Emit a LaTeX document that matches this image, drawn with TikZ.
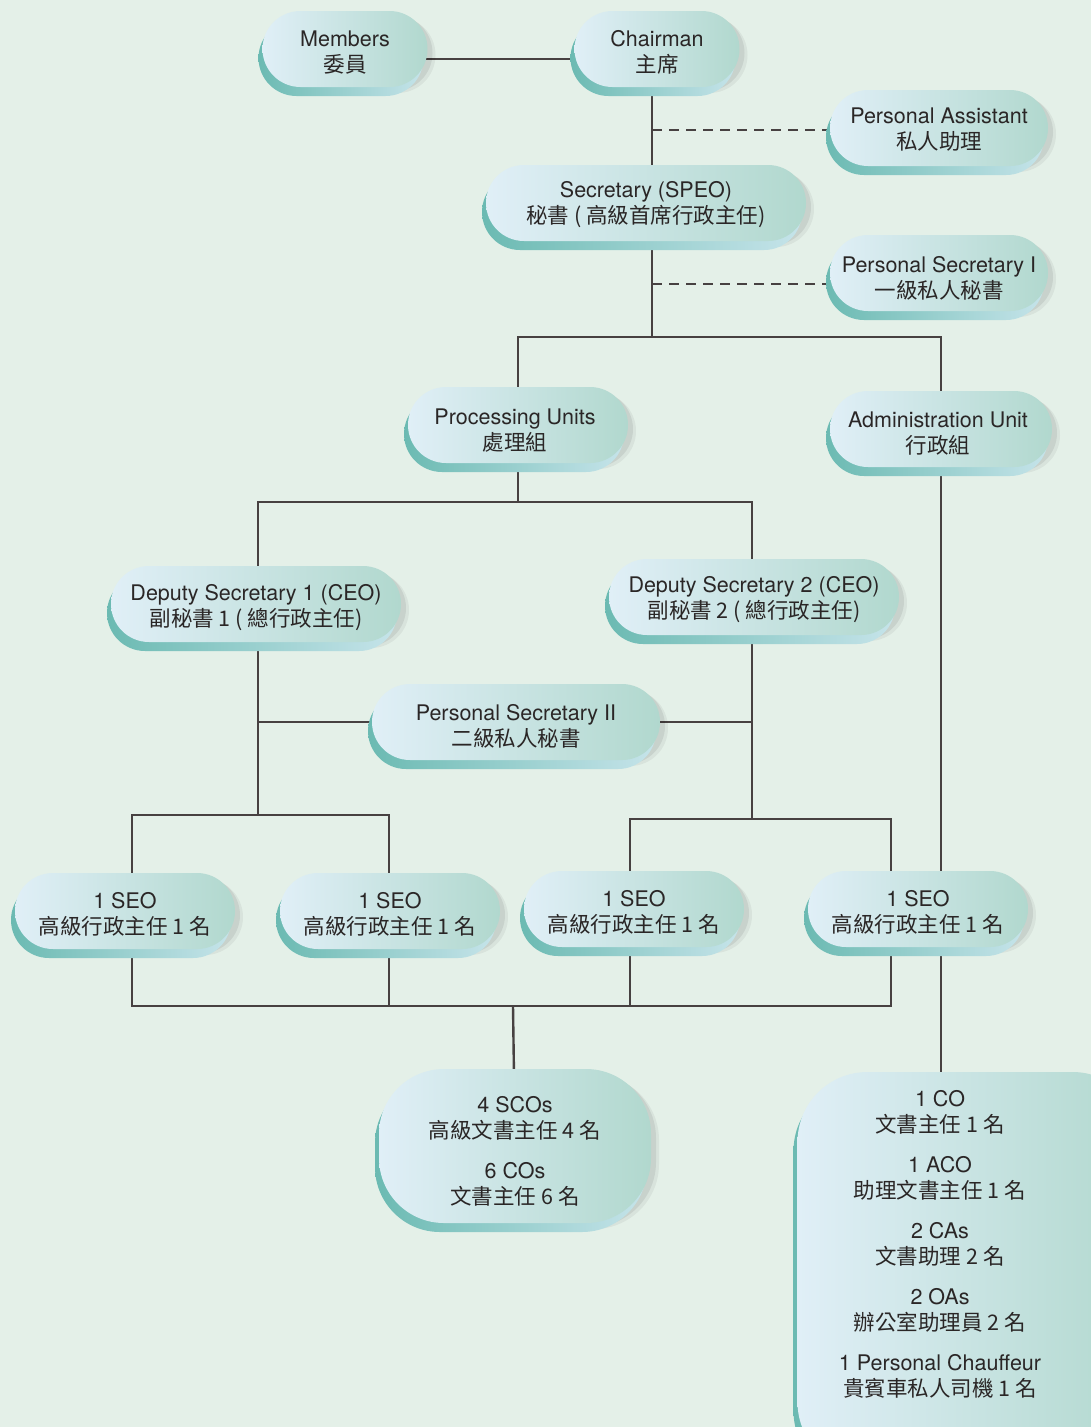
\documentclass[tikz,border=0pt]{standalone}
\usepackage{fontspec}
\setmainfont{TeX Gyre Heros}
\newfontfamily\cjkf{Noto Sans CJK TC}
\usetikzlibrary{shapes.misc,shadows}
\definecolor{bgc}{HTML}{E4F0E8}
\definecolor{pillL}{HTML}{E0EFF7}
\definecolor{pillR}{HTML}{B1D8CE}
\definecolor{tealD}{HTML}{6BBAB2}
\definecolor{tealL}{HTML}{C6E4EA}
\definecolor{linec}{HTML}{474141}
\definecolor{txt}{HTML}{2A2626}
\pgfdeclarelayer{back}
\pgfdeclarelayer{bg}
\pgfsetlayers{back,bg,main}
\tikzset{
  base/.style={inner sep=0pt,
    general shadow={shadow xshift=8pt, shadow yshift=-6pt, fill=black, opacity=0.05},
    general shadow={shadow xshift=5pt, shadow yshift=-4pt, fill=black, opacity=0.07},
    general shadow={shadow xshift=-4pt, shadow yshift=-9pt, left color=tealD, right color=tealL},
    left color=pillL, right color=pillR},
  pill/.style={base, rounded rectangle, minimum height=76pt},
  bigbox/.style={base, rectangle, rounded corners=#1},
  link/.style={draw=linec, line width=2.4pt},
  dlink/.style={link, dash pattern=on 10pt off 7pt},
  plain/.style={align=center, text=txt, font=\fontsize{21.5}{26}\selectfont, inner sep=0pt},
  lab/.style={plain, yshift=#1},
  lab/.default=-4pt,
}
\begin{document}
\begin{tikzpicture}[x=1pt,y=-1pt]
\useasboundingbox (0,0) rectangle (1091,1427);
\begin{pgfonlayer}{back}
\fill[bgc] (0,0) rectangle (1091,1427);
\end{pgfonlayer}
\clip (0,0) rectangle (1091,1427);

\node[pill, minimum width=165pt, label={[lab=-4pt]center:{Members\\{\cjkf 委員}}}] (members) at (345,49) {};
\node[pill, minimum width=165pt, label={[lab=-3pt]center:{Chairman\\{\cjkf 主席}}}] (chairman) at (657,49) {};
\node[pill, minimum width=218pt, label={[lab=-2pt]center:{Personal Assistant\\{\cjkf 私人助理}}}] (pa) at (939,128) {};
\node[pill, minimum width=320pt, label={[lab=-2pt]center:{Secretary (SPEO)\\{\cjkf 秘書 ( 高級首席行政主任)}}}] (sec) at (646,203) {};
\node[pill, minimum width=218pt, label={[lab=-5pt]center:{Personal Secretary I\\{\cjkf 一級私人秘書}}}] (psi) at (939,273) {};
\node[pill, minimum width=220pt, label={[lab=-6pt, xshift=-3pt]center:{Processing Units\\{\cjkf 處理組}}}] (proc) at (518,425) {};
\node[pill, minimum width=222pt, label={[lab=-5pt, xshift=-3pt]center:{Administration Unit\\{\cjkf 行政組}}}] (admin) at (941,429) {};
\node[pill, minimum width=290pt, label={[lab=-4pt]center:{Deputy Secretary 1 (CEO)\\{\cjkf 副秘書 1 ( 總行政主任)}}}] (ds1) at (256,604) {};
\node[pill, minimum width=290pt, label={[lab=-3pt]center:{Deputy Secretary 2 (CEO)\\{\cjkf 副秘書 2 ( 總行政主任)}}}] (ds2) at (754,597) {};
\node[pill, minimum width=288pt, label={[lab=-4pt]center:{Personal Secretary II\\{\cjkf 二級私人秘書}}}] (psii) at (516,722) {};
\node[pill, minimum width=220pt, label={[lab=-3pt]center:{1 SEO\\{\cjkf 高級行政主任 1 名}}}] (seo1) at (125,911) {};
\node[pill, minimum width=220pt, label={[lab=-3pt]center:{1 SEO\\{\cjkf 高級行政主任 1 名}}}] (seo2) at (390,911) {};
\node[pill, minimum width=220pt, label={[lab=-3pt]center:{1 SEO\\{\cjkf 高級行政主任 1 名}}}] (seo3) at (634,909) {};
\node[pill, minimum width=220pt, label={[lab=-3pt]center:{1 SEO\\{\cjkf 高級行政主任 1 名}}}] (seo4) at (918,909) {};
\node[bigbox=65pt, minimum width=272pt, minimum height=154pt,
  label={[lab=-5pt]center:{4 SCOs\\{\cjkf 高級文書主任 4 名}\\[14pt]6 COs\\{\cjkf 文書主任 6 名}}}] (scos) at (515,1146) {};
\node[bigbox=70pt, minimum width=345pt, minimum height=400pt] (staffbox) at (970,1272) {};
\node[plain] (stafftext) at (940,1244)
  {1 CO\\{\cjkf 文書主任 1 名}\\[14pt]1 ACO\\{\cjkf 助理文書主任 1 名}\\[14pt]2 CAs\\{\cjkf 文書助理 2 名}\\[14pt]2 OAs\\{\cjkf 辦公室助理員 2 名}\\[14pt]1 Personal Chauffeur\\{\cjkf 貴賓車私人司機 1 名}};

\begin{pgfonlayer}{bg}
\coordinate (sp) at (652,337);
\coordinate (pd) at ([yshift=-2pt]pa.center);
\coordinate (qd) at ([yshift=-11pt]psi.center);
\coordinate (jp) at (518,502);
\coordinate (j1) at (258,815);
\coordinate (j2) at (752,819);
\coordinate (s1) at (132,911);
\coordinate (s2) at (389,911);
\coordinate (s3) at (630,909);
\coordinate (s4) at (891,909);
\coordinate (jb) at (513,1006);
\draw[link] ([yshift=-10pt]members.center) -- ([yshift=-10pt]chairman.center);
\draw[link] (sp |- chairman.center) -- (sp);
\draw[dlink] (pd -| sp) -- (pd);
\draw[dlink] (qd -| sp) -- (qd);
\draw[link] (proc.center) |- (sp) -| (admin.center);
\draw[link] (admin.center) -- (admin.center |- staffbox.north);
\draw[link] (proc.center) -- (jp);
\draw[link] (j1 |- ds1.center) |- (jp) -| (j2 |- ds2.center);
\draw[link] (j1 |- ds1.center) -- (j1);
\draw[link] (s1) |- (j1) -| (s2);
\draw[link] (j1 |- psii.center) -- (j2 |- psii.center);
\draw[link] (j2 |- ds2.center) -- (j2);
\draw[link] (s3) |- (j2) -| (s4);
\draw[link] (s1) |- (jb) -| (s4);
\draw[link] (s2) -- (s2 |- jb);
\draw[link] (s3) -- (s3 |- jb);
\draw[link] (jb) -- (scos.center);
\end{pgfonlayer}
\end{tikzpicture}
\end{document}
